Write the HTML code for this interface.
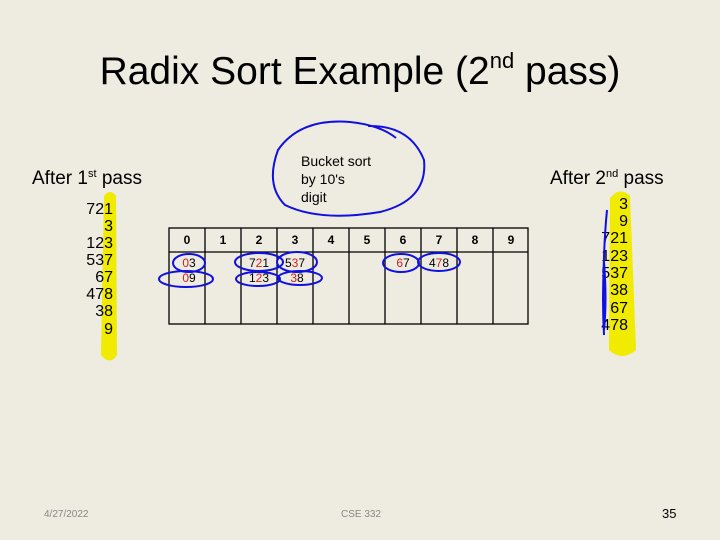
<!DOCTYPE html>
<html><head><meta charset="utf-8"><style>
body{margin:0;background:#eeebe0;}
svg{display:block;font-family:"Liberation Sans",sans-serif;}
</style></head><body>
<svg width="720" height="540" viewBox="0 0 720 540">
<rect width="720" height="540" fill="#eeebe0"/>
<text x="360" y="84" font-size="39" text-anchor="middle" fill="#000">Radix Sort Example (2<tspan font-size="22" dy="-16">nd</tspan><tspan dy="16"> pass)</tspan></text>
<text x="32" y="184" font-size="19">After 1<tspan font-size="11" dy="-7">st</tspan><tspan dy="7"> pass</tspan></text>
<text x="550" y="184" font-size="19">After 2<tspan font-size="11" dy="-7">nd</tspan><tspan dy="7"> pass</tspan></text>
<!-- yellow highlights -->
<path d="M104,196 Q110,188 116,196 L117,355 Q110,366 101,355 Z" fill="#f0eb00"/>
<path d="M610,198 Q620,186 630,196 L636,350 Q622,362 609,350 Z" fill="#f0eb00"/>
<g font-size="16" text-anchor="end" fill="#000">
<text x="113" y="214">721</text><text x="113" y="231">3</text><text x="113" y="248">123</text><text x="113" y="265">537</text>
<text x="113" y="282">67</text><text x="113" y="299">478</text><text x="113" y="316">38</text><text x="113" y="334">9</text>
<text x="628" y="209">3</text><text x="628" y="226">9</text><text x="628" y="243">721</text><text x="628" y="261">123</text>
<text x="628" y="278">537</text><text x="628" y="295">38</text><text x="628" y="313">67</text><text x="628" y="330">478</text>
</g>
<path d="M607,210 Q602,260 604,330 Q607,300 604,262 Q602,300 604,335" fill="none" stroke="#1010e0" stroke-width="2"/>
<!-- bubble -->
<path d="M368,126 Q410,125 424,160 Q428,200 380,212 Q320,222 285,205 Q265,185 278,150 Q300,118 350,122 Q380,125 396,138" fill="none" stroke="#1010e0" stroke-width="2"/>
<text x="301" y="166" font-size="14">Bucket sort</text>
<text x="301" y="184" font-size="14">by 10's</text>
<text x="301" y="202" font-size="14">digit</text>
<!-- table -->
<g stroke="#000" stroke-width="1.3" fill="none">
<rect x="169" y="228" width="359" height="96"/>
<line x1="169" y1="252" x2="528" y2="252"/>
<line x1="205" y1="228" x2="205" y2="324"/><line x1="241" y1="228" x2="241" y2="324"/>
<line x1="277" y1="228" x2="277" y2="324"/><line x1="313" y1="228" x2="313" y2="324"/>
<line x1="349" y1="228" x2="349" y2="324"/><line x1="385" y1="228" x2="385" y2="324"/>
<line x1="421" y1="228" x2="421" y2="324"/><line x1="457" y1="228" x2="457" y2="324"/>
<line x1="493" y1="228" x2="493" y2="324"/>
</g>
<g font-size="12" font-weight="bold" text-anchor="middle">
<text x="187" y="244">0</text><text x="223" y="244">1</text><text x="259" y="244">2</text><text x="295" y="244">3</text><text x="331" y="244">4</text>
<text x="367" y="244">5</text><text x="403" y="244">6</text><text x="439" y="244">7</text><text x="475" y="244">8</text><text x="511" y="244">9</text>
</g>
<g font-size="12" text-anchor="middle" fill="#000">
<text x="189" y="267"><tspan fill="#d02020">0</tspan>3</text>
<text x="189" y="282"><tspan fill="#d02020">0</tspan>9</text>
<text x="259" y="267">7<tspan fill="#d02020">2</tspan>1</text>
<text x="259" y="282">1<tspan fill="#d02020">2</tspan>3</text>
<text x="295" y="267">5<tspan fill="#d02020">3</tspan>7</text>
<text x="297" y="282"><tspan fill="#d02020">3</tspan>8</text>
<text x="403" y="267"><tspan fill="#d02020">6</tspan>7</text>
<text x="439" y="267">4<tspan fill="#d02020">7</tspan>8</text>
</g>
<g fill="none" stroke="#1010e0" stroke-width="2">
<ellipse cx="189" cy="263" rx="16" ry="9"/>
<ellipse cx="186" cy="279" rx="27" ry="8"/>
<ellipse cx="259" cy="262" rx="24" ry="9"/>
<ellipse cx="258" cy="279" rx="22" ry="7"/>
<ellipse cx="297" cy="262" rx="20" ry="10"/>
<ellipse cx="300" cy="278" rx="22" ry="7"/>
<ellipse cx="401" cy="263" rx="18" ry="9"/>
<ellipse cx="439" cy="262" rx="21" ry="9"/>
</g>
<text x="44" y="517" font-size="10" fill="#888">4/27/2022</text>
<text x="341" y="517" font-size="10" fill="#888">CSE 332</text>
<text x="662" y="518" font-size="13" fill="#000">35</text>
</svg>
</body></html>
